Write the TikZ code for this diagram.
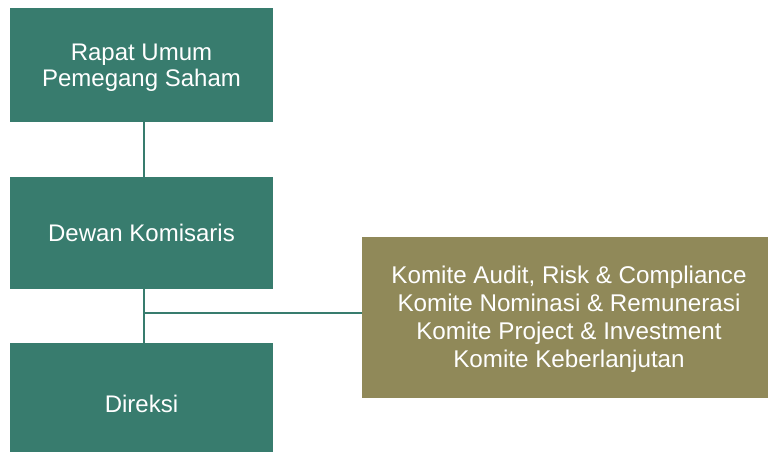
\documentclass[tikz,border=0pt]{standalone}
\usepackage{fontspec}
\setmainfont{Liberation Sans}
\definecolor{teal1}{HTML}{387C6E}
\definecolor{gold1}{HTML}{908959}
\begin{document}
\begin{tikzpicture}[x=1pt,y=1pt,
  tbox/.style={fill=teal1,draw=none,inner sep=0pt},
  gbox/.style={fill=gold1,draw=none,inner sep=0pt},
  ttxt/.style={text=white,font=\fontsize{24}{26.5}\selectfont,align=center,inner sep=0pt},
  gtxt/.style={text=white,font=\fontsize{24.2}{28}\selectfont,align=center,inner sep=0pt},
  link/.style={draw=teal1,line width=1.6pt}]
\useasboundingbox (0,0) rectangle (768,452);
\begin{scope}
\clip (0,0) rectangle (768,452);
\node[tbox,minimum width=263pt,minimum height=114pt] (rups) at (141.5,387) {};
\node[tbox,minimum width=263pt,minimum height=112pt] (dk) at (141.5,219) {};
\node[tbox,minimum width=263pt,minimum height=120pt] (dir) at (141.5,49) {};
\node[gbox,minimum width=410pt,minimum height=161pt] (kom) at (567,134.5) {};
\end{scope}
\node[ttxt] (rupsT) at ([yshift=-2.5pt]rups.center) {Rapat Umum\\Pemegang Saham};
\node[ttxt] (dkT) at (dk.center) {Dewan Komisaris};
\node[ttxt] (dirT) at ([yshift=-1pt]dir.center) {Direksi};
\node[gtxt] (komT) at ([xshift=2pt,yshift=-2pt]kom.center) {Komite Audit, Risk \& Compliance\\Komite Nominasi \& Remunerasi\\Komite Project \& Investment\\Komite Keberlanjutan};
\draw[link] (rups.south -| 144,0) -- (dk.north -| 144,0);
\draw[link] (dk.south -| 144,0) -- (dir.north -| 144,0);
\draw[link] (144,139) -- (kom.west |- 144,139);
\end{tikzpicture}
\end{document}
